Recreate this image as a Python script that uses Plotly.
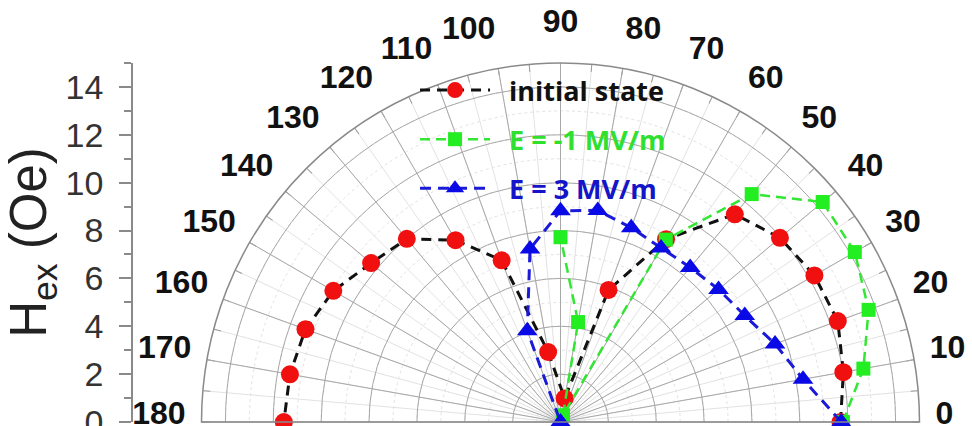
import plotly.graph_objects as go

# ---------------- data ----------------
series_names = ["initial state", "E = -1 MV/m", "E = 3 MV/m"]

angles_initial = [0, 10, 20, 30, 40, 50, 60, 70, 80, 100, 110, 120, 130, 140, 150, 160, 170, 180]
hex_initial = [11.7, 12.0, 12.33, 12.25, 11.97, 11.33, 8.82, 5.87, 1.0, 2.97, 7.19, 8.77, 9.99,
               10.33, 10.96, 11.34, 11.48, 11.56]

angles_e_neg1 = [0, 10, 20, 30, 40, 50, 60, 70, 80, 90]
hex_e_neg1 = [11.8, 12.85, 13.7, 14.2, 14.3, 12.43, 8.8, 0.3, 4.24, 7.72]

angles_e_3 = [0, 10, 20, 30, 40, 50, 60, 70, 80, 90, 100, 110, 120]
hex_e_3 = [11.73, 10.29, 9.54, 8.89, 8.62, 8.43, 8.4, 8.64, 8.97, 8.83, 7.34, 4.06, 0.0]

angular_tickvals = list(range(0, 181, 10))
radial_range = [0, 15]
y_title = "H<sub>ex</sub> (Oe)"

# ---------------- layout geometry ----------------
W, H = 972, 426
cx, cy, R = 560.5, 422.0, 359.0
dom_x = [(cx - R) / W, (cx + R) / W]
dom_y = [(H - cy) / H, (H - cy + R) / H]
LABEL_LIFT = 9  # px: angle labels sit a little higher in the reference
dom_y_labels = [v + LABEL_LIFT / H for v in dom_y]

GRID = "#a8a8a8"
MINOR = "#e2e2e2"
PAD = "\u00a0\u00a0"

fig = go.Figure()

# empty helper traces so the helper polar subplots are instantiated
fig.add_trace(go.Scatterpolar(r=[None], theta=[None], subplot="polar", showlegend=False,
                              hoverinfo="skip", mode="markers"))

fig.add_trace(go.Scatterpolar(
    r=hex_initial, theta=angles_initial, subplot="polar2",
    name=PAD + "<b>" + series_names[0] + "</b>",
    mode="lines+markers", legendgroup="a",
    line=dict(color="#111111", width=3, dash="10px,7px"),
    marker=dict(symbol="circle", size=18, color="#f01010"),
))
fig.add_trace(go.Scatterpolar(
    r=hex_e_neg1, theta=angles_e_neg1, subplot="polar2",
    name=PAD + "<b><span style='color:#2fe02f'>" + series_names[1] + "</span></b>",
    mode="lines+markers", legendgroup="b",
    line=dict(color="#33e633", width=2.5, dash="10px,6px"),
    marker=dict(symbol="square", size=14, color="#22ee22"),
))
fig.add_trace(go.Scatterpolar(
    r=hex_e_3, theta=angles_e_3, subplot="polar2",
    name=PAD + "<b><span style='color:#1414c8'>" + series_names[2] + "</span></b>",
    mode="lines+markers", legendgroup="c",
    line=dict(color="#1a1ad8", width=3, dash="11px,7px"),
    marker=dict(symbol="triangle-up", size=18, color="#0a0ae6"),
))

fig.add_trace(go.Scatterpolar(r=[None], theta=[None], subplot="polar3", showlegend=False,
                              hoverinfo="skip", mode="markers"))

# dummy cartesian trace so the linear H_ex axis is drawn
fig.add_trace(go.Scatter(x=[None], y=[None], xaxis="x", yaxis="y", showlegend=False,
                         hoverinfo="skip", mode="markers"))

fig.update_layout(
    width=W, height=H, autosize=False,
    margin=dict(l=0, r=0, t=0, b=0, autoexpand=False),
    paper_bgcolor="white", plot_bgcolor="rgba(0,0,0,0)",
    showlegend=True,
    legend=dict(x=0.427, y=0.845, xanchor="left", yanchor="top", bgcolor="rgba(0,0,0,0)",
                font=dict(family="Open Sans", size=27, color="#111111"),
                itemwidth=70, tracegroupgap=11, traceorder="grouped"),
    # minor grid (underneath)
    polar=dict(
        domain=dict(x=dom_x, y=dom_y), sector=[0, 180], bgcolor="white",
        radialaxis=dict(range=radial_range, dtick=1, tick0=0, showticklabels=False, ticks="",
                        showline=False, gridcolor=MINOR, griddash="dot", gridwidth=1),
        angularaxis=dict(dtick=5, tick0=0, rotation=0, direction="counterclockwise",
                         showticklabels=False, ticks="inside", ticklen=7, tickcolor="#9a9a9a",
                         tickwidth=1, gridcolor=MINOR, gridwidth=1, showline=False),
    ),
    # main grid + data
    polar2=dict(
        domain=dict(x=dom_x, y=dom_y), sector=[0, 180], bgcolor="rgba(0,0,0,0)",
        radialaxis=dict(range=radial_range, dtick=2, tick0=0, showticklabels=False, ticks="",
                        showline=False, gridcolor=GRID, gridwidth=1),
        angularaxis=dict(tickvals=angular_tickvals, rotation=0, direction="counterclockwise",
                         showticklabels=False, ticks="",
                         gridcolor=GRID, gridwidth=1, showline=True, linecolor="#8a8a8a",
                         linewidth=1.5),
    ),
    # angle labels only
    polar3=dict(
        domain=dict(x=dom_x, y=dom_y_labels), sector=[0, 180], bgcolor="rgba(0,0,0,0)",
        radialaxis=dict(range=radial_range, showticklabels=False, ticks="", showline=False,
                        showgrid=False),
        angularaxis=dict(tickvals=angular_tickvals, rotation=0, direction="counterclockwise",
                         ticks="outside", ticklen=9, tickcolor="rgba(0,0,0,0)",
                         showgrid=False, showline=False,
                         tickfont=dict(family="Liberation Sans", size=32, color="#111111",
                                       weight="bold")),
    ),
    xaxis=dict(visible=False, domain=[0.14, 0.2], range=[0, 1]),
    yaxis=dict(anchor="free", position=132 / W, domain=dom_y, range=radial_range,
               dtick=2, tick0=0, showgrid=False, zeroline=False, automargin=False,
               showline=True, linecolor="#8a8a8a", linewidth=1.5,
               ticks="outside", ticklen=12, tickwidth=1.5, tickcolor="#8a8a8a",
               ticklabelstandoff=9, ticklabeloverflow="allow",
               minor=dict(dtick=1, ticks="outside", ticklen=7, tickcolor="#8a8a8a", tickwidth=1.5),
               tickfont=dict(family="Liberation Sans", size=34, color="#333333"),
               title=dict(text=y_title, standoff=4,
                          font=dict(family="Liberation Sans", size=51, color="#222222"))),
)

fig.write_html("out.html")
